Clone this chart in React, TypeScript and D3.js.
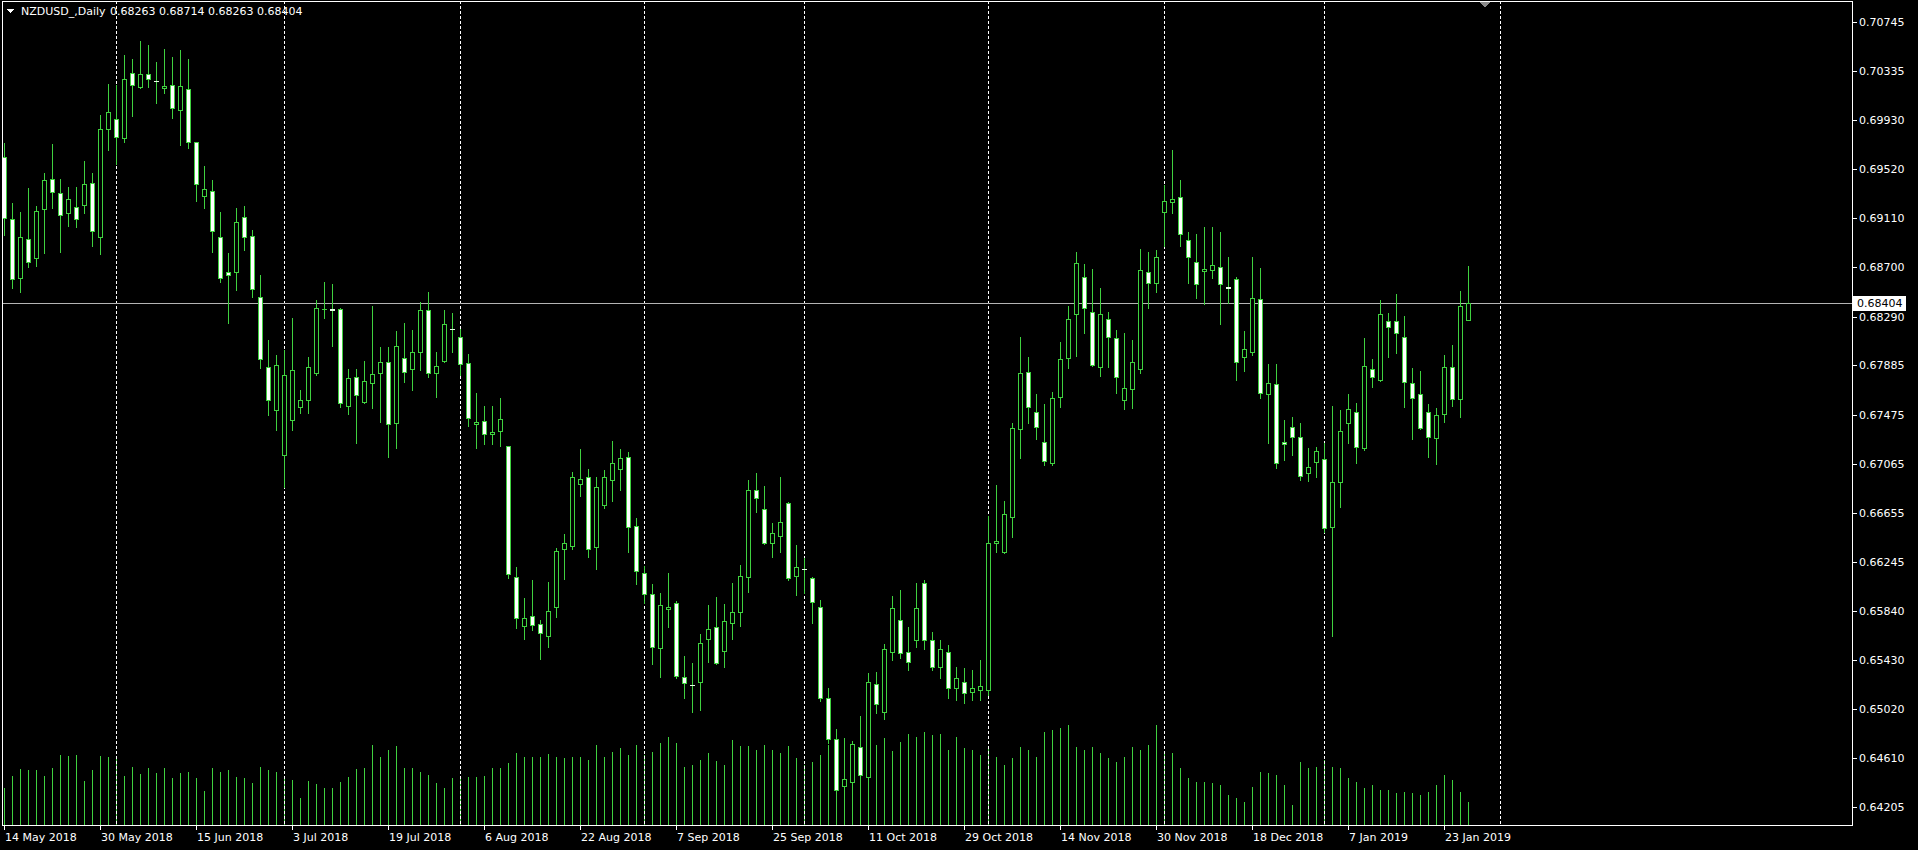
import React from 'react';
import * as d3 from 'd3';

const symbolTitle = 'NZDUSD_,Daily';
const headerValues = '0.68263 0.68714 0.68263 0.68404';
const lastPrice = 0.68404;

const opens = [
0.69620,0.69101,0.68615,0.68935,0.68781,0.69185,0.69434,0.69318,0.69156,0.69206,
0.69218,0.69406,0.68956,0.69857,0.69939,0.69781,0.70317,0.70206,0.70309,0.70253,
0.70193,0.70218,0.70012,0.70184,0.69743,0.69298,0.69340,0.68956,0.68665,0.68665,
0.69121,0.68964,0.68457,0.67874,0.67513,0.67138,0.67430,0.67541,0.67596,0.67818,
0.68357,0.68352,0.68352,0.67548,0.67786,0.67581,0.67739,0.67818,0.67915,0.67407,
0.67948,0.67852,0.67993,0.68346,0.67818,0.67923,0.68190,0.68124,0.67901,0.67394,
0.67424,0.67311,0.67341,0.67209,0.66124,0.65713,0.65797,0.65730,0.65630,0.65875,
0.66352,0.66380,0.66894,0.66957,0.66369,0.66717,0.66928,0.67019,0.67124,0.66546,
0.66152,0.65977,0.65528,0.65853,0.65902,0.65286,0.65222,0.65245,0.65602,0.65703,
0.65508,0.65737,0.65830,0.66124,0.66846,0.66686,0.66407,0.66466,0.66736,0.66132,
0.66188,0.66110,0.65873,0.65111,0.64770,0.64383,0.64417,0.64708,0.64451,0.65228,
0.65000,0.65495,0.65764,0.65495,0.65597,0.66069,0.65597,0.65374,0.65497,0.65197,
0.65247,0.65164,0.65181,0.65181,0.66402,0.66332,0.66621,0.67355,0.67832,0.67499,
0.67249,0.67069,0.67624,0.67948,0.68310,0.68624,0.68333,0.67874,0.68268,0.68110,
0.67596,0.67685,0.67852,0.68665,0.68570,0.69160,0.69243,0.69290,0.68927,0.68748,
0.68669,0.68675,0.68702,0.68540,0.68602,0.67957,0.67998,0.68435,0.67644,0.67728,
0.67244,0.67373,0.67285,0.66986,0.67083,0.67102,0.66541,0.66910,0.67402,0.67499,
0.67194,0.67852,0.67763,0.68254,0.68254,0.68124,0.67739,0.67644,0.67499,0.67277,
0.67477,0.67874,0.67602,0.68263];

const highs = [
0.69737,0.69240,0.69164,0.69365,0.69212,0.69484,0.69726,0.69437,0.69373,0.69373,
0.69587,0.69484,0.69970,0.70228,0.70219,0.70470,0.70437,0.70587,0.70553,0.70414,
0.70520,0.70456,0.70512,0.70437,0.69745,0.69546,0.69428,0.69160,0.68818,0.69193,
0.69212,0.69012,0.68637,0.68095,0.67971,0.68013,0.68279,0.67679,0.67957,0.68429,
0.68576,0.68560,0.68365,0.67855,0.67855,0.67921,0.68381,0.68040,0.68040,0.68171,
0.68235,0.68179,0.68410,0.68493,0.67993,0.68345,0.68318,0.68188,0.67976,0.67652,
0.67546,0.67546,0.67615,0.67215,0.66202,0.65945,0.66097,0.65764,0.66078,0.66361,
0.66477,0.66994,0.67186,0.67019,0.66957,0.67012,0.67257,0.67186,0.67165,0.66616,
0.66215,0.66060,0.65986,0.66152,0.65924,0.65464,0.65403,0.65644,0.65888,0.65953,
0.65897,0.66075,0.66221,0.66930,0.66986,0.66880,0.66573,0.66952,0.66749,0.66388,
0.66277,0.66124,0.65930,0.65195,0.64853,0.64547,0.64755,0.64964,0.65319,0.65333,
0.65561,0.65964,0.66014,0.65703,0.66075,0.66097,0.65664,0.65597,0.65555,0.65370,
0.65366,0.65348,0.65430,0.66626,0.66888,0.66755,0.67402,0.68118,0.67957,0.67644,
0.67561,0.67665,0.68083,0.68381,0.68826,0.68726,0.68685,0.68527,0.68327,0.68183,
0.68156,0.68095,0.68854,0.68826,0.68846,0.69387,0.69679,0.69428,0.68992,0.68976,
0.69040,0.69037,0.68997,0.68790,0.68624,0.68173,0.68790,0.68699,0.67896,0.67896,
0.67430,0.67452,0.67407,0.67194,0.67205,0.67236,0.67546,0.67513,0.67649,0.67573,
0.68115,0.67937,0.68429,0.68318,0.68481,0.68296,0.67866,0.67838,0.67563,0.67532,
0.67971,0.68053,0.68504,0.68714];

const lows = [
0.68970,0.68527,0.68498,0.68706,0.68712,0.68818,0.69193,0.68831,0.69047,0.69040,
0.69152,0.68881,0.68810,0.69678,0.69562,0.69748,0.69964,0.70193,0.70206,0.70068,
0.70150,0.69943,0.69720,0.69698,0.69254,0.69193,0.68831,0.68581,0.68235,0.68514,
0.68846,0.68458,0.67862,0.67471,0.67346,0.66871,0.67346,0.67488,0.67484,0.67804,
0.68281,0.68048,0.67535,0.67477,0.67241,0.67568,0.67532,0.67415,0.67124,0.67194,
0.67748,0.67680,0.67846,0.67790,0.67619,0.67910,0.67998,0.67804,0.67382,0.67194,
0.67230,0.67230,0.67209,0.66110,0.65694,0.65602,0.65680,0.65436,0.65541,0.65786,
0.66102,0.66352,0.66799,0.66291,0.66186,0.66695,0.66757,0.66846,0.66332,0.66060,
0.65902,0.65395,0.65291,0.65708,0.65278,0.65116,0.65000,0.65014,0.65417,0.65397,
0.65375,0.65605,0.65713,0.65999,0.66659,0.66397,0.66291,0.66332,0.66097,0.65972,
0.65986,0.65741,0.65089,0.64736,0.64319,0.64347,0.64406,0.64464,0.64440,0.64986,
0.64936,0.65430,0.65445,0.65349,0.65538,0.65521,0.65348,0.65282,0.65114,0.65097,
0.65072,0.65097,0.65097,0.65135,0.66332,0.66319,0.66452,0.67110,0.67402,0.67269,
0.67055,0.67055,0.67541,0.67861,0.67965,0.68152,0.67880,0.67798,0.67874,0.67652,
0.67519,0.67526,0.67822,0.68365,0.68498,0.68875,0.69156,0.68879,0.68569,0.68448,
0.68397,0.68610,0.68229,0.68403,0.67763,0.67838,0.67971,0.67615,0.67236,0.67032,
0.67097,0.67139,0.66928,0.66920,0.66957,0.66499,0.65630,0.66706,0.67236,0.67069,
0.67180,0.67702,0.67757,0.67957,0.67990,0.67541,0.67269,0.67352,0.67124,0.67061,
0.67415,0.67548,0.67457,0.68263];

const closes = [
0.69112,0.68602,0.68951,0.68743,0.69170,0.69426,0.69331,0.69135,0.69268,0.69101,
0.69395,0.69001,0.69857,0.69993,0.69789,0.70267,0.70218,0.70309,0.70267,0.70251,
0.70209,0.70026,0.70209,0.69743,0.69393,0.69350,0.69006,0.68610,0.68637,0.69076,
0.68951,0.68519,0.67935,0.67596,0.67888,0.67804,0.67846,0.67596,0.67874,0.68365,
0.68358,0.68346,0.67573,0.67777,0.67636,0.67752,0.67811,0.67910,0.67394,0.68048,
0.67827,0.67998,0.68347,0.67818,0.67882,0.68226,0.68186,0.67894,0.67444,0.67415,
0.67311,0.67332,0.67436,0.66144,0.65778,0.65783,0.65722,0.65657,0.65842,0.66341,
0.66407,0.66952,0.66941,0.66355,0.66874,0.66957,0.67069,0.67110,0.66541,0.66174,
0.65977,0.65536,0.65886,0.65869,0.65299,0.65236,0.65220,0.65569,0.65686,0.65403,
0.65757,0.65830,0.66130,0.66846,0.66777,0.66402,0.66484,0.66577,0.66116,0.66202,
0.66186,0.65915,0.65111,0.64770,0.64347,0.64436,0.64728,0.64473,0.65245,0.65061,
0.65521,0.65861,0.65487,0.65411,0.65861,0.65597,0.65374,0.65521,0.65197,0.65282,
0.65151,0.65197,0.65215,0.66402,0.66424,0.66646,0.67360,0.67818,0.67541,0.67369,
0.67088,0.67610,0.67935,0.68268,0.68740,0.68361,0.67888,0.68310,0.68118,0.67786,
0.67693,0.67910,0.68675,0.68570,0.68790,0.69254,0.69273,0.68976,0.68787,0.68560,
0.68685,0.68720,0.68560,0.68529,0.67915,0.68021,0.68443,0.67657,0.67739,0.67069,
0.67230,0.67285,0.66966,0.67036,0.67171,0.66531,0.66910,0.67334,0.67519,0.67203,
0.67880,0.67790,0.68310,0.68207,0.68152,0.67744,0.67610,0.67365,0.67285,0.67471,
0.67874,0.67602,0.68379,0.68404];

const volumes = [
37,49,56,55,55,49,57,70,69,70,44,55,69,68,68,49,58,51,57,52,
57,47,52,53,47,34,57,53,55,48,47,42,58,55,53,47,45,27,44,41,
37,37,43,48,56,57,80,68,75,79,57,57,53,50,42,37,47,46,48,48,
49,57,57,62,72,68,68,68,71,68,67,68,68,65,80,68,73,77,70,80,
70,73,82,88,82,58,60,65,72,64,60,85,79,79,75,80,75,72,79,67,
60,63,70,80,83,87,83,90,73,80,87,74,83,91,88,93,90,91,75,88,
77,75,70,78,68,60,67,78,75,68,93,95,97,100,78,75,78,72,67,63,
68,78,75,80,100,73,72,57,47,43,43,42,40,30,27,23,38,53,52,50,
40,20,63,57,58,65,58,57,47,43,37,40,35,35,32,33,32,30,33,40,
50,45,33,23];

const priceTicks = [0.70745,0.70335,0.69930,0.69520,0.69110,0.68700,0.68290,0.67885,0.67475,0.67065,0.66655,0.66245,0.65840,0.65430,0.65020,0.64610,0.64205];
const dateTickBars = [0,12,24,36,48,60,72,84,96,108,120,132,144,156,168,180];
const dateTickLabels = ['14 May 2018','30 May 2018','15 Jun 2018','3 Jul 2018','19 Jul 2018','6 Aug 2018','22 Aug 2018','7 Sep 2018','25 Sep 2018','11 Oct 2018','29 Oct 2018','14 Nov 2018','30 Nov 2018','18 Dec 2018','7 Jan 2019','23 Jan 2019'];
const monthStartBars = [14,35,57,80,100,123,145,165,187];

const GREEN = '#3fd13f';
const FONT = '"DejaVu Sans", Verdana, sans-serif';

export default function App() {
  const W = 1918, H = 850;
  const L = 2, R = 1852, T = 1, B = 825;
  const x = d3.scaleLinear().domain([0, 183]).range([4, 1468]);
  const y = d3.scaleLinear().domain([0.64055, 0.70920]).range([825, 1]);
  const vy = d3.scaleLinear().domain([0, 100]).range([825, 725]);
  const ry = (v: number) => Math.round(y(v));

  const n = opens.length;
  const idx = d3.range(n);
  const lastY = ry(lastPrice);

  return (
    <svg width={W} height={H} style={{ position: 'absolute', left: 0, top: 0, background: '#000' }} shapeRendering="crispEdges">
      <rect x={0} y={0} width={W} height={H} fill="#000" />
      {idx.map(i => {
        const xi = Math.round(x(i));
        const top = Math.round(vy(volumes[i]));
        return <rect key={'v' + i} x={xi} y={top} width={1} height={B - top} fill={GREEN} />;
      })}
      {monthStartBars.map((b, k) => {
        const xi = Math.round(x(b)) + 0.5;
        return <line key={'g' + k} x1={xi} x2={xi} y1={T} y2={B} stroke="#fff" strokeWidth={1} strokeDasharray="3 2" />;
      })}
      <line x1={L} x2={R} y1={lastY + 0.5} y2={lastY + 0.5} stroke="#b4b4b4" strokeWidth={1} />
      {idx.map(i => {
        const xi = Math.round(x(i));
        const yh = ry(highs[i]);
        const yl = ry(lows[i]);
        const yo = ry(opens[i]);
        const yc = ry(closes[i]);
        const top = Math.min(yo, yc);
        const bot = Math.max(yo, yc);
        const bear = closes[i] < opens[i];
        return (
          <g key={'c' + i}>
            <rect x={xi} y={yh} width={1} height={yl - yh + 1} fill={GREEN} />
            {bot - top < 2 ? (
              <rect x={xi - 2} y={top} width={5} height={bot - top + 1} fill={bear ? '#e8ffe8' : GREEN} stroke="none" />
            ) : (
              <>
                <rect x={xi - 2} y={top} width={5} height={bot - top + 1} fill={GREEN} />
                <rect x={xi - 1} y={top + 1} width={3} height={bot - top - 1} fill={bear ? '#ffffff' : '#000000'} />
              </>
            )}
          </g>
        );
      })}
      <rect x={L + 0.5} y={T + 0.5} width={R - L} height={B - T} fill="none" stroke="#fff" strokeWidth={1} />
      <polygon points={`${x(187) - 20},${T + 1} ${x(187) - 10},${T + 1} ${x(187) - 15},${T + 7}`} fill="#8a8a8a" />
      <polygon points="7,9 14,9 10.5,13" fill="#fff" />
      <text x={21} y={15} fill="#fff" fontFamily={FONT} fontSize={11}>{symbolTitle}</text>
      <text x={110} y={15} fill="#fff" fontFamily={FONT} fontSize={11}>{headerValues}</text>
      {priceTicks.map((p, k) => {
        const yy = ry(p);
        return (
          <g key={'p' + k}>
            <line x1={R + 1} x2={R + 5} y1={yy + 0.5} y2={yy + 0.5} stroke="#fff" />
            <text x={R + 7} y={yy + 4} fill="#fff" fontFamily={FONT} fontSize={11}>{p.toFixed(5)}</text>
          </g>
        );
      })}
      <rect x={R + 1} y={lastY - 7} width={53} height={15} fill="#fff" />
      <text x={R + 5} y={lastY + 4} fill="#000" fontFamily={FONT} fontSize={11}>{lastPrice.toFixed(5)}</text>
      {dateTickBars.map((b, k) => {
        const xi = Math.round(x(b));
        return (
          <g key={'d' + k}>
            <line x1={xi + 0.5} x2={xi + 0.5} y1={B + 1} y2={B + 5} stroke="#fff" />
            <text x={xi + 1} y={841} fill="#fff" fontFamily={FONT} fontSize={11}>{dateTickLabels[k]}</text>
          </g>
        );
      })}
    </svg>
  );
}
